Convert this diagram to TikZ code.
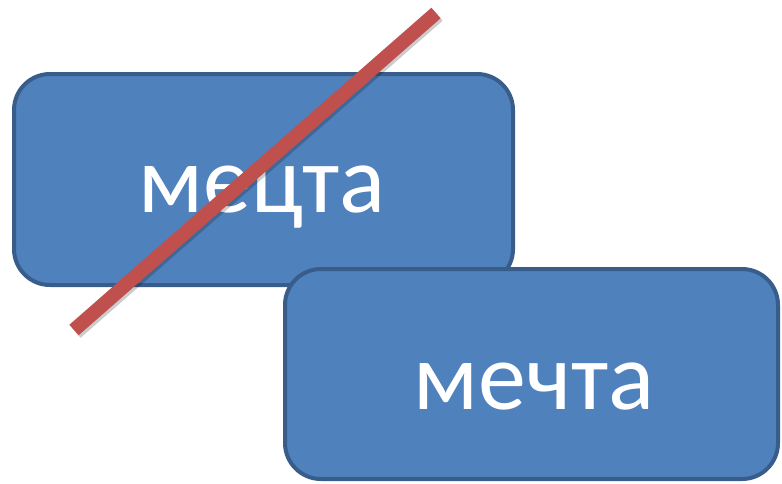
\documentclass[tikz,border=0pt]{standalone}
\usepackage{fontspec}
\setmainfont{Carlito}
\definecolor{boxfill}{HTML}{4F81BD}
\definecolor{boxline}{HTML}{385D8A}
\definecolor{strike}{HTML}{C0504D}
\begin{document}
\begin{tikzpicture}[x=1pt,y=-1pt,
  box/.style={draw=boxline, fill=boxfill, line width=4pt, rounded corners=36pt, inner sep=0pt},
  word/.style={text=white, anchor=base, inner sep=0pt, font=\fontsize{96}{110}\selectfont}]
\useasboundingbox (0,0) rectangle (782,483);
\node[box, minimum width=499pt, minimum height=211pt] (b1) at (263.5,179.5) {};
\node[word] (t1) at (262,212) {мецта};
\coordinate (s1) at (74,330);
\coordinate (s2) at (436,13);
\draw[line width=14pt, black, opacity=0.2] ([shift={(2,2.5)}]s1) -- ([shift={(2,2.5)}]s2);
\draw[line width=14pt, strike] (s1) -- (s2);
\node[box, minimum width=493pt, minimum height=210pt] (b2) at (531.5,374) {};
\node[word] (t2) at (534,409) {мечта};
\end{tikzpicture}
\end{document}
